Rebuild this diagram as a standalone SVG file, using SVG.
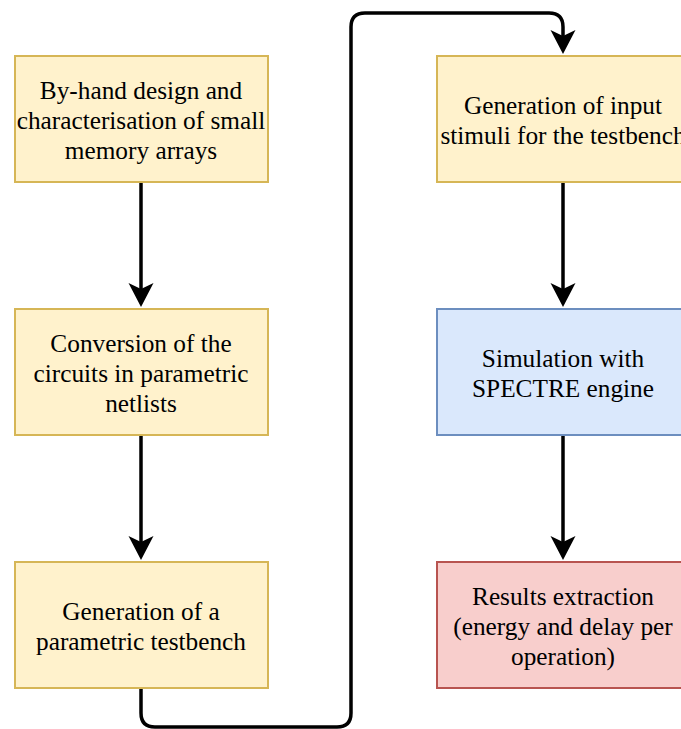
<svg xmlns="http://www.w3.org/2000/svg" width="681" height="729" viewBox="0 0 681 729">
<style>
.box{stroke-width:2}
.y{fill:#fff2cc;stroke:#d6b656}
.b{fill:#dae8fc;stroke:#6c8ebf}
.r{fill:#f8cecc;stroke:#b85450}
text{font-family:"Liberation Serif","Times New Roman",serif;font-size:25.3px;fill:#000;text-anchor:middle}
.c{fill:none;stroke:#000;stroke-width:3.5}
.ah{fill:#000;stroke:none}
</style>
<defs>
<path id="head" d="M0,0 L-12.5,-24 L0,-18 L12.5,-24 Z"/>
</defs>
<g id="connectors">
<path class="c" d="M141,183 V290"/>
<use href="#head" class="ah" x="141" y="307"/>
<path class="c" d="M141,436 V543"/>
<use href="#head" class="ah" x="141" y="560"/>
<path class="c" d="M563,183 V290"/>
<use href="#head" class="ah" x="563" y="307"/>
<path class="c" d="M563,436 V543"/>
<use href="#head" class="ah" x="563" y="560"/>
<path class="c" d="M141,689 V713 Q141,727 155,727 H337 Q351,727 351,713 V27 Q351,13 365,13 H549 Q563,13 563,27 V37"/>
<use href="#head" class="ah" x="563" y="54"/>
</g>
<g id="n1"><rect class="box y" x="15" y="56" width="253" height="126"/>
<text x="141" y="99">By-hand design and</text><text x="141" y="129">characterisation of small</text><text x="141" y="159">memory arrays</text></g>
<g id="n2"><rect class="box y" x="15" y="309" width="253" height="126"/>
<text x="141" y="352">Conversion of the</text><text x="141" y="382">circuits in parametric</text><text x="141" y="412">netlists</text></g>
<g id="n3"><rect class="box y" x="15" y="562" width="253" height="126"/>
<text x="141" y="620">Generation of a</text><text x="141" y="650">parametric testbench</text></g>
<g id="n4"><rect class="box y" x="437" y="56" width="253" height="126"/>
<text x="563" y="114">Generation of input</text><text x="563" y="144">stimuli for the testbench</text></g>
<g id="n5"><rect class="box b" x="437" y="309" width="253" height="126"/>
<text x="563" y="367">Simulation with</text><text x="563" y="397">SPECTRE engine</text></g>
<g id="n6"><rect class="box r" x="437" y="562" width="253" height="126"/>
<text x="563" y="605">Results extraction</text><text x="563" y="635">(energy and delay per</text><text x="563" y="665">operation)</text></g>
</svg>
